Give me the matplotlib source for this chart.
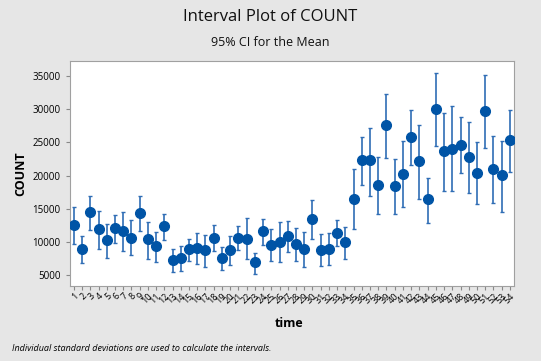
import matplotlib.pyplot as plt
import numpy as np

plt.rcParams['font.family'] = ['Open Sans', 'DejaVu Sans']

time = list(range(1, 55))
mean = [12530, 8970, 14490, 11980, 10270, 12130, 11730, 10670, 14340, 10420,
        9470, 12380, 7310, 7560, 8970, 9070, 8770, 10670, 7610, 8870,
        10670, 10520, 6960, 11680, 9620, 10020, 10970, 9720, 9020, 13480,
        8870, 9020, 11430, 10020, 16500, 22320, 22320, 18600, 27640, 18500,
        20310, 25780, 22170, 16500, 30050, 23670, 24080, 24680, 22870, 20410,
        29750, 21010, 20060, 25380]
upper = [15240, 10970, 16950, 14640, 12680, 14040, 14490, 13280, 16900, 13080,
         11530, 14240, 9020, 9420, 10520, 11430, 11020, 12580, 9320, 10970,
         12480, 13580, 8410, 13530, 11980, 12980, 13230, 12130, 11580, 16350,
         11180, 11430, 13280, 12280, 20960, 25780, 27240, 22870, 32360, 22570,
         25230, 29850, 27590, 19710, 35520, 29500, 30450, 28850, 28040, 25130,
         35120, 25930, 25230, 29850]
lower = [9670, 6860, 11780, 8970, 7660, 9820, 8660, 8010, 11630, 7510,
         7010, 10270, 5450, 5600, 7110, 6710, 6310, 8710, 5800, 6560,
         8820, 7410, 5150, 9520, 7110, 6960, 8510, 7160, 6260, 10420,
         6460, 6510, 9420, 7410, 11930, 18550, 17000, 14190, 22620, 14190,
         15340, 21570, 16450, 12880, 24480, 17750, 17750, 20360, 17450, 15740,
         24230, 15840, 14540, 20560]

mean = np.array(mean)
yerr = [mean - np.array(lower), np.array(upper) - mean]

bg = '#e6e6e6'
fig = plt.figure(figsize=(5.41, 3.61), dpi=100, facecolor=bg)
ax = fig.add_axes([0.129, 0.208, 0.821, 0.623])
ax.set_facecolor('white')

ax.errorbar(time, mean, yerr=yerr, fmt='none', ecolor='#2f6db5',
            elinewidth=1.2, capsize=1.5, capthick=1.0)
ax.plot(time, mean, 'o', color='#0054a6', markersize=7, zorder=3)

ax.set_xlim(0.51, 54.49)
ax.set_ylim(3390, 37260)
ax.set_yticks(range(5000, 35001, 5000))
ax.set_xticks(time)
ax.set_xticklabels([str(t) for t in time], rotation=45, ha='right',
                   rotation_mode='anchor', fontsize=6.5)
ax.tick_params(axis='y', labelsize=7, length=3, color='#888888')
ax.tick_params(axis='x', length=3, color='#888888', pad=1)
for s in ax.spines.values():
    s.set_color('#a0a0a0')

ax.set_ylabel('COUNT', fontsize=9, fontweight='bold', labelpad=4)
fig.text(0.535, 0.105, 'time', ha='center', va='center', fontsize=9,
         fontweight='bold')
fig.text(0.5, 0.952, 'Interval Plot of COUNT', ha='center', va='center',
         fontsize=12, color='#111111')
fig.text(0.5, 0.883, '95% CI for the Mean', ha='center', va='center',
         fontsize=9, color='#111111')
fig.text(0.022, 0.035, 'Individual standard deviations are used to calculate the intervals.',
         ha='left', va='center', fontsize=6.5, style='italic')

fig.savefig('out.png', dpi=100, facecolor=bg)
